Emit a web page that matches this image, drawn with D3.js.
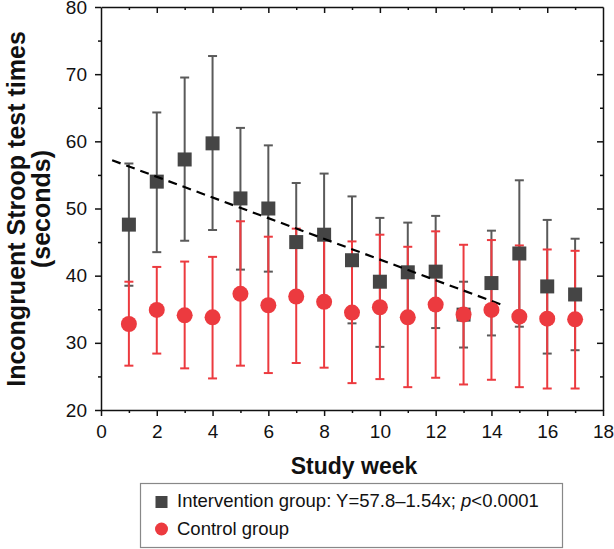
<!DOCTYPE html>
<html><head><meta charset="utf-8">
<script src="https://cdn.jsdelivr.net/npm/d3@7"></script>
<style>body{margin:0;background:#fff}svg{display:block}text{font-family:"Liberation Sans",Arial,sans-serif}</style>
</head><body><svg id="c" width="614" height="549"></svg>
<script>
const weeks = [1,2,3,4,5,6,7,8,9,10,11,12,13,14,15,16,17];
const intMean = [47.6,54.0,57.3,59.7,51.5,50.0,45.0,46.1,42.3,39.1,40.5,40.6,34.2,38.9,43.3,38.4,37.2];
const intUpper = [56.7,64.3,69.5,72.7,62.0,59.4,53.8,55.2,51.8,48.6,47.9,48.9,39.1,46.7,54.2,48.3,45.5];
const intLower = [38.5,43.5,45.2,46.8,40.9,40.6,36.4,36.8,32.9,29.4,33.0,32.2,29.3,31.1,32.4,28.4,28.9];
const ctlMean = [32.8,34.9,34.1,33.8,37.3,35.6,36.9,36.1,34.5,35.3,33.8,35.7,34.2,34.9,33.9,33.6,33.5];
const ctlUpper = [39.1,41.3,42.1,42.8,48.1,45.8,47.0,45.8,45.1,46.1,44.3,46.6,44.6,45.3,44.5,43.9,43.7];
const ctlLower = [26.6,28.4,26.2,24.7,26.6,25.5,27.0,26.3,24.0,24.6,23.4,24.8,23.8,24.5,23.4,23.2,23.2];
const fitIntercept = 57.8, fitSlope = -1.54, fitRange = [0.4, 14.4];
const xTicks = [0,2,4,6,8,10,12,14,16,18];
const yTicks = [20,30,40,50,60,70,80];
const legendLabels = ["Intervention group: Y=57.8\u20131.54x; ", "Control group"];

const svg = d3.select("#c");
const L=101, R=603, T=7, B=410;
const x = d3.scaleLinear().domain([0,18]).range([L,R]);
const y = d3.scaleLinear().domain([20,80]).range([B,T]);
const GRAY="#454545", BAR="#5a5a5a", RED="#ec3a3f";

const xMinor = d3.range(1,18,2), yMinor = d3.range(25,80,10);
const gB = svg.append("g").attr("transform",`translate(0,${B})`)
  .call(d3.axisBottom(x).tickValues(xTicks).tickSize(6).tickSizeOuter(0).tickPadding(9));
gB.selectAll("text").attr("font-size",19).attr("fill","#111");
svg.append("g").attr("transform",`translate(0,${B})`)
  .call(d3.axisBottom(x).tickValues(xMinor).tickSize(3).tickFormat("")).select(".domain").remove();
const gL = svg.append("g").attr("transform",`translate(${L},0)`)
  .call(d3.axisLeft(y).tickValues(yTicks).tickSize(6).tickSizeOuter(0).tickPadding(8));
gL.selectAll("text").attr("font-size",19).attr("fill","#111");
svg.append("g").attr("transform",`translate(${L},0)`)
  .call(d3.axisLeft(y).tickValues(yMinor).tickSize(3).tickFormat("")).select(".domain").remove();
svg.append("g").attr("transform",`translate(0,${T})`)
  .call(d3.axisBottom(x).tickValues(xTicks.filter(v=>v>0&&v<18)).tickSize(6).tickSizeOuter(0).tickFormat(""));
svg.append("g").attr("transform",`translate(0,${T})`)
  .call(d3.axisBottom(x).tickValues(xMinor).tickSize(3).tickFormat("")).select(".domain").remove();
svg.append("g").attr("transform",`translate(${R},0)`)
  .call(d3.axisLeft(y).tickValues(yTicks.filter(v=>v>20&&v<80)).tickSize(6).tickSizeOuter(0).tickFormat(""));
svg.append("g").attr("transform",`translate(${R},0)`)
  .call(d3.axisLeft(y).tickValues(yMinor).tickSize(3).tickFormat("")).select(".domain").remove();
svg.selectAll(".domain,.tick line").attr("stroke","#111").attr("stroke-width",1.5);

function bars(up, lo, color) {
  const g = svg.append("g").attr("stroke",color).attr("stroke-width",2).attr("fill","none");
  weeks.forEach((w,i)=>{
    g.append("line").attr("x1",x(w)).attr("x2",x(w)).attr("y1",y(up[i])).attr("y2",y(lo[i]));
    [up[i],lo[i]].forEach(v=>g.append("line").attr("x1",x(w)-4.5).attr("x2",x(w)+4.5).attr("y1",y(v)).attr("y2",y(v)));
  });
}
bars(intUpper,intLower,BAR);
bars(ctlUpper,ctlLower,RED);

svg.append("g").selectAll("rect").data(weeks).join("rect")
  .attr("x",d=>x(d)-7).attr("y",(d,i)=>y(intMean[i])-7).attr("width",14).attr("height",14).attr("fill",GRAY);
svg.append("line").attr("x1",x(fitRange[0])).attr("y1",y(fitIntercept+fitSlope*fitRange[0]))
  .attr("x2",x(fitRange[1])).attr("y2",y(fitIntercept+fitSlope*fitRange[1]))
  .attr("stroke","#000").attr("stroke-width",2.2).attr("stroke-dasharray","9,6");
svg.append("g").selectAll("circle").data(weeks).join("circle")
  .attr("cx",d=>x(d)).attr("cy",(d,i)=>y(ctlMean[i])).attr("r",8).attr("fill",RED);

svg.append("text").attr("x",354).attr("y",474).attr("text-anchor","middle").attr("font-size",23).attr("font-weight","bold").attr("fill","#111").text("Study week");
const yt = svg.append("text").attr("transform","translate(0,209) rotate(-90)").attr("text-anchor","middle").attr("font-size",25).attr("font-weight","bold").attr("fill","#111");
yt.append("tspan").attr("x",0).attr("y",25).text("Incongruent Stroop test times");
yt.append("tspan").attr("x",0).attr("y",50).text("(seconds)");

svg.append("rect").attr("x",140.5).attr("y",483.5).attr("width",422).attr("height",64).attr("fill","#fff").attr("stroke","#888").attr("stroke-width",1.2);
svg.append("rect").attr("x",155.5).attr("y",496).attr("width",12).attr("height",12).attr("fill",GRAY);
svg.append("circle").attr("cx",161.5).attr("cy",529).attr("r",6.5).attr("fill",RED);
const l1 = svg.append("text").attr("x",177).attr("y",507).attr("font-size",18.5).attr("fill","#111");
l1.append("tspan").text(legendLabels[0]);
l1.append("tspan").attr("font-style","italic").text("p");
l1.append("tspan").text("<0.0001");
svg.append("text").attr("x",177).attr("y",535).attr("font-size",18.5).attr("fill","#111").text(legendLabels[1]);
</script></body></html>
